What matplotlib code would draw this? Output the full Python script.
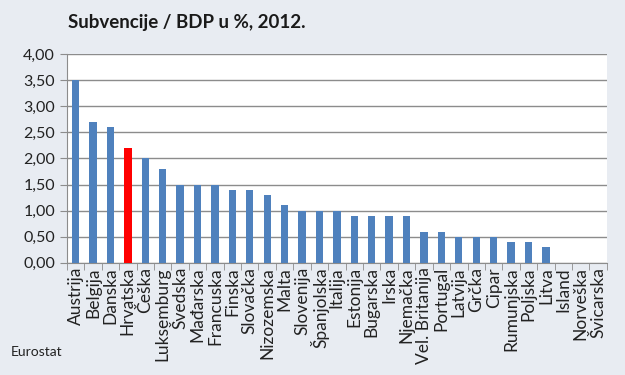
import numpy as np
import matplotlib.pyplot as plt

plt.rcParams['font.family'] = ['Lato', 'DejaVu Sans']

countries = ["Austrija", "Belgija", "Danska", "Hrvatska", "Češka", "Luksemburg",
             "Švedska", "Mađarska", "Francuska", "Finska", "Slovačka", "Nizozemska",
             "Malta", "Slovenija", "Španjolska", "Italija", "Estonija", "Bugarska",
             "Irska", "Njemačka", "Vel. Britanija", "Portugal", "Latvija", "Grčka",
             "Cipar", "Rumunjska", "Poljska", "Litva", "Island", "Norveška", "Švicarska"]
values = [3.5, 2.7, 2.6, 2.2, 2.0, 1.8, 1.5, 1.5, 1.5, 1.4, 1.4, 1.3, 1.1, 1.0, 1.0,
          1.0, 0.9, 0.9, 0.9, 0.9, 0.6, 0.6, 0.5, 0.5, 0.5, 0.4, 0.4, 0.3, 0.0, 0.0, 0.0]
yticks = [0.0, 0.5, 1.0, 1.5, 2.0, 2.5, 3.0, 3.5, 4.0]

colors = ['#ff0000' if c == "Hrvatska" else '#4f81bd' for c in countries]

fig = plt.figure(figsize=(6.25, 3.75), dpi=100)
fig.patch.set_facecolor('#e8ecf2')
ax = fig.add_axes([0.107, 0.299, 0.864, 0.557])
ax.set_facecolor('white')

x = np.arange(len(countries))
ax.bar(x, values, width=0.42, color=colors, zorder=3)

ax.set_ylim(0, 4)
ax.set_xlim(-0.5, len(countries) - 0.5)
ax.set_yticks(yticks)
ax.set_yticklabels([f"{v:.2f}".replace('.', ',') for v in yticks], fontsize=11.5, color='#222222')
ax.yaxis.grid(True, color='#8c8c8c', linewidth=1, zorder=0)

ax.set_xticks(x)
ax.set_xticklabels(countries, rotation=90, fontsize=12.5, color='#222222')
ax.set_xticks(np.arange(len(countries) + 1) - 0.5, minor=True)
ax.tick_params(axis='x', which='major', length=0, pad=3)
ax.tick_params(axis='x', which='minor', length=5, color='#8c8c8c')
ax.tick_params(axis='y', length=5, color='#8c8c8c')

for s in ['top', 'right']:
    ax.spines[s].set_visible(False)
ax.spines['left'].set_color('#8c8c8c')
ax.spines['bottom'].set_color('#8c8c8c')

fig.text(0.109, 0.94, "Subvencije / BDP u %, 2012.", fontsize=13.5, fontweight='bold',
         color='#1a1a1a', va='center')
fig.text(0.018, 0.062, "Eurostat", fontsize=10, color='#222222', va='center')

fig.savefig("out.png", dpi=100, facecolor=fig.get_facecolor())
